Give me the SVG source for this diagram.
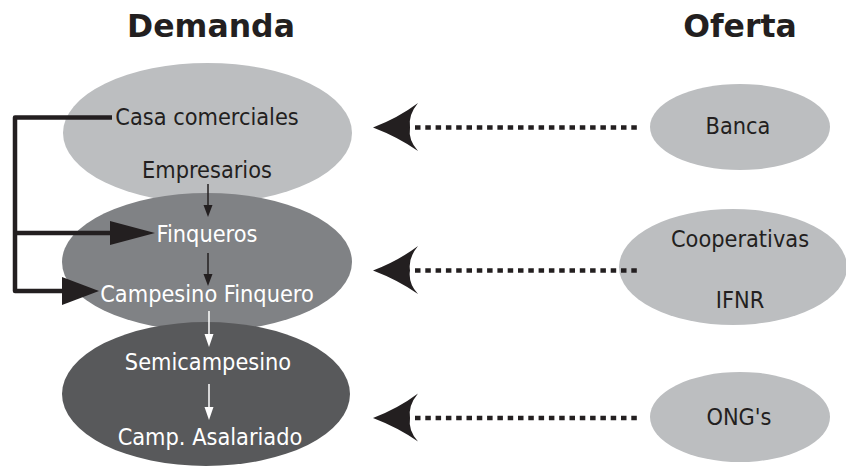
<svg xmlns="http://www.w3.org/2000/svg" width="846" height="472" viewBox="0 0 846 472">
<style>
.title{font-family:"DejaVu Sans",Verdana,sans-serif;font-weight:bold;font-size:31.5px;fill:#231f20;text-anchor:middle}
.lbl{font-family:"DejaVu Sans Condensed","DejaVu Sans",sans-serif;font-stretch:condensed;font-size:23.3px;text-anchor:middle}
.dk{fill:#231f20}
.wt{fill:#ffffff}
.dot{stroke:#231f20;stroke-width:4.5;stroke-dasharray:5.5 4.8;fill:none}
.thick{stroke:#231f20;stroke-width:4.5;fill:none;stroke-linejoin:round}
.thin{stroke:#231f20;stroke-width:1.5;fill:none}
.thinw{stroke:#ffffff;stroke-width:1.5;fill:none}
</style>
<rect width="846" height="472" fill="#ffffff"/>
<text class="title" x="211" y="37">Demanda</text>
<text class="title" x="740" y="37">Oferta</text>

<g id="node-casa">
<ellipse cx="207.5" cy="133" rx="144.5" ry="70" fill="#bcbec0"/>
</g>
<g id="node-finqueros">
<ellipse cx="207" cy="262" rx="145" ry="69" fill="#808285"/>
</g>
<g id="node-semi">
<ellipse cx="206" cy="394" rx="144" ry="72" fill="#58595b"/>
</g>
<g id="labels-demanda">
<text class="lbl dk" x="207" y="125">Casa comerciales</text>
<text class="lbl dk" x="207" y="178">Empresarios</text>
<text class="lbl wt" x="207" y="242">Finqueros</text>
<text class="lbl wt" x="207" y="302">Campesino Finquero</text>
<text class="lbl wt" x="208" y="370">Semicampesino</text>
<text class="lbl wt" x="210" y="445">Camp. Asalariado</text>
</g>
<g id="node-banca">
<ellipse cx="740" cy="127" rx="90" ry="43" fill="#bcbec0"/>
<text class="lbl dk" x="738" y="134">Banca</text>
</g>
<g id="node-coop">
<ellipse cx="733" cy="267" rx="114" ry="58" fill="#bcbec0"/>
<text class="lbl dk" x="740" y="247">Cooperativas</text>
<text class="lbl dk" x="740" y="308">IFNR</text>
</g>
<g id="node-ong">
<ellipse cx="740" cy="417" rx="90" ry="45" fill="#bcbec0"/>
<text class="lbl dk" x="739" y="425">ONG's</text>
</g>

<g id="connectors">
<path class="thin" d="M208,184 V211"/>
<path d="M203.5,205 L212.5,205 L208,217 Z" fill="#231f20"/>
<path class="thin" d="M208,253 V280"/>
<path d="M203.5,274 L212.5,274 L208,286 Z" fill="#231f20"/>
<path class="thinw" d="M209,311 V340"/>
<path d="M204.5,334 L213.5,334 L209,347 Z" fill="#ffffff"/>
<path class="thinw" d="M209,384 V414"/>
<path d="M204.5,407 L213.5,407 L209,420 Z" fill="#ffffff"/>

<path class="thick" d="M112,117.5 H15 V291 H70"/>
<path class="thick" d="M15,233 H115"/>
<path d="M110,221 L155,233 L110,245 Z" fill="#231f20"/>
<path d="M62,277 L99,291 L62,305 Z" fill="#231f20"/>

<path class="dot" d="M415,127.5 H637"/>
<path d="M373,127.5 Q398,118 418,103 Q408,115 410,127.5 Q408,140 418,151 Q398,137 373,127.5 Z" fill="#231f20"/>
<path class="dot" d="M415,270.5 H637"/>
<path d="M373,270.5 Q398,261 418,246 Q408,258 410,270.5 Q408,283 418,294 Q398,280 373,270.5 Z" fill="#231f20"/>
<path class="dot" d="M415,418 H637"/>
<path d="M373,418 Q398,408.5 418,393.5 Q408,405.5 410,418 Q408,430.5 418,441.5 Q398,427.5 373,418 Z" fill="#231f20"/>
</g>
</svg>
